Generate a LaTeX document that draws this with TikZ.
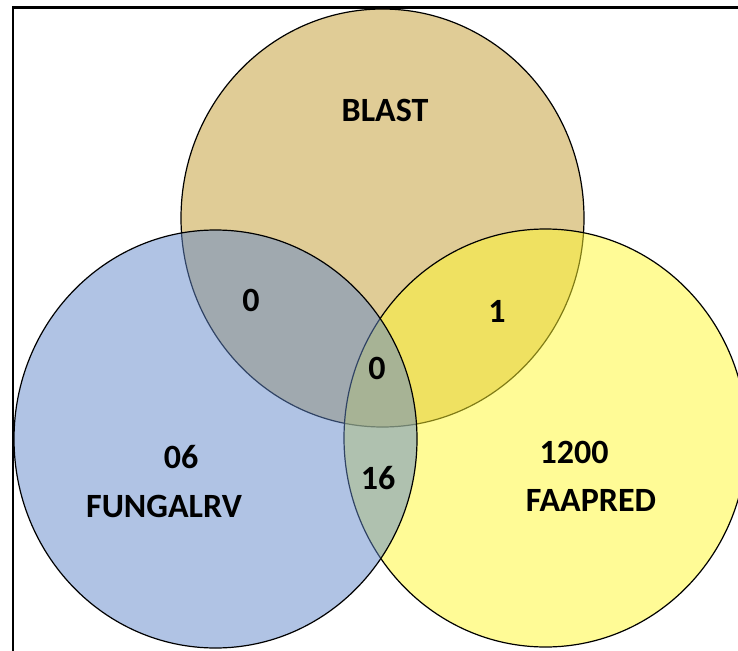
\documentclass[tikz,border=0pt]{standalone}
\usepackage{fontspec}
\setmainfont{Carlito}
\definecolor{blastc}{RGB}{193,153,45}
\definecolor{fungalc}{RGB}{97,135,201}
\definecolor{faapc}{RGB}{255,247,45}
\def\setrx{201.5}
\def\setry{209}

\begin{document}
\begin{tikzpicture}[x=1pt,y=-1pt]
    \tikzstyle{set}=[draw=black, line width=1.2pt, fill opacity=0.5]
    \tikzstyle{count}=[font=\bfseries\fontsize{34}{38}\selectfont, inner sep=0pt]
    \tikzstyle{setname}=[font=\bfseries\fontsize{34}{38}\selectfont, inner sep=0pt]

    \useasboundingbox (0,0) rectangle (738,650);
    \clip (0,0) rectangle (738,650);

    %%% DRAW THE FRAME
    \draw[line width=2.5pt] (13,700) -- (13,7.5) -- (760,7.5);

    %%% DRAW THE SETS
    \draw[set, fill=blastc] (382.5,218) ellipse [x radius=\setrx, y radius=\setry];
    \draw[set, fill=faapc] (545.5,438) ellipse [x radius=\setrx, y radius=\setry];
    \draw[set, fill=fungalc] (215.5,439) ellipse [x radius=\setrx, y radius=\setry];

    %%% NAME THE SETS
    \node[setname] (blast) at (385,110) {BLAST};
    \node[setname] (fungalrv) at (164,506) {FUNGALRV};
    \node[setname] (faapred) at (591,500) {FAAPRED};

    %%% DRAW THE COUNTS
    \node[count] (c-f) at (181,457) {06};
    \node[count] (c-a) at (574,452) {1200};
    \node[count] (c-bf) at (251,300) {0};
    \node[count] (c-ba) at (497,311) {1};
    \node[count] (c-all) at (377,368) {0};
    \node[count] (c-fa) at (378,478) {16};
\end{tikzpicture}
\end{document}
